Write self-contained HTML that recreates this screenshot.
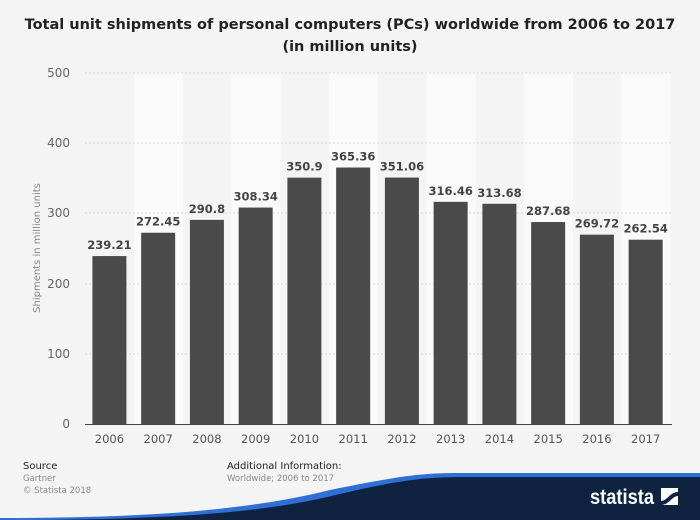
<!DOCTYPE html>
<html><head><style>
body{margin:0;width:700px;height:520px;background:#f4f4f4;font-family:"DejaVu Sans","Liberation Sans",sans-serif;overflow:hidden;position:relative}
</style></head><body>
<svg width="700" height="520" style="position:absolute;left:0;top:0" font-family="DejaVu Sans, Liberation Sans, sans-serif">
<text x="350" y="29" text-anchor="middle" font-size="14.5" font-weight="bold" fill="#222">Total unit shipments of personal computers (PCs) worldwide from 2006 to 2017</text>
<text x="350" y="51" text-anchor="middle" font-size="14.5" font-weight="bold" fill="#222">(in million units)</text>
<g fill="#fafafa">
<rect x="134" y="73" width="49" height="351"/><rect x="231.5" y="73" width="49" height="351"/><rect x="329" y="73" width="49" height="351"/><rect x="426.5" y="73" width="49" height="351"/><rect x="524" y="73" width="49" height="351"/><rect x="621.5" y="73" width="49" height="351"/>
</g>
<g stroke="#d8d8d8" stroke-dasharray="2,2">
<line x1="85" x2="672" y1="73" y2="73"/><line x1="85" x2="672" y1="143" y2="143"/><line x1="85" x2="672" y1="213" y2="213"/><line x1="85" x2="672" y1="284" y2="284"/><line x1="85" x2="672" y1="354" y2="354"/>
</g>
<g font-size="12" fill="#666" text-anchor="end">
<text x="70" y="77">500</text><text x="70" y="147">400</text><text x="70" y="217">300</text><text x="70" y="288">200</text><text x="70" y="358">100</text><text x="70" y="428">0</text>
</g>
<text transform="translate(40,248) rotate(-90)" text-anchor="middle" font-size="10" fill="#888">Shipments in million units</text>
<g fill="#4a4a4a" id="bars"></g>
<line x1="85" x2="672" y1="424.5" y2="424.5" stroke="#444"/>
<g id="labels" font-size="11.5" font-weight="bold" fill="#444" text-anchor="middle"></g>
<g id="xl" font-size="11.5" fill="#555" text-anchor="middle"></g>
<text x="23" y="469" font-size="10" fill="#222">Source</text>
<text x="23" y="481" font-size="8.5" fill="#888">Gartner</text>
<text x="23" y="493" font-size="8.5" fill="#888">© Statista 2018</text>
<text x="227" y="469" font-size="10" fill="#222">Additional Information:</text>
<text x="227" y="481" font-size="8.5" fill="#888">Worldwide; 2006 to 2017</text>
<path d="M0,520 L0,518 C150,518 250,510 330,490 C400,476 420,473 460,473 L700,473 L700,520 Z" fill="#2f6fd6"/>
<path d="M0,520 C160,520 260,514 340,494 C400,480 425,477 465,477 L700,477 L700,520 Z" fill="#0f2341"/>
<text x="590" y="504" font-size="21" font-weight="bold" fill="#fff" font-family="Liberation Sans, sans-serif" textLength="64" lengthAdjust="spacingAndGlyphs">statista</text>
<rect x="661" y="488" width="17" height="17" fill="#fff"/>
<path d="M661,501 C667,501 670,492 678,492 L678,496 C672,496 669,505 661,505Z" fill="#0f2341"/>
</svg>
<script>
var v=[239.21,272.45,290.8,308.34,350.9,365.36,351.06,316.46,313.68,287.68,269.72,262.54];
var b="",l="",x="";
v.forEach(function(d,i){var c=85+24.4+i*48.75;var h=d*0.702;var y=424-h;
b+='<rect x="'+(c-17)+'" y="'+y+'" width="34" height="'+h+'"/>';
l+='<text x="'+c+'" y="'+(y-7)+'">'+d+'</text>';
x+='<text x="'+c+'" y="443">'+(2006+i)+'</text>';});
document.getElementById('bars').innerHTML=b;
document.getElementById('labels').innerHTML=l;
document.getElementById('xl').innerHTML=x;
</script>
</body></html>
